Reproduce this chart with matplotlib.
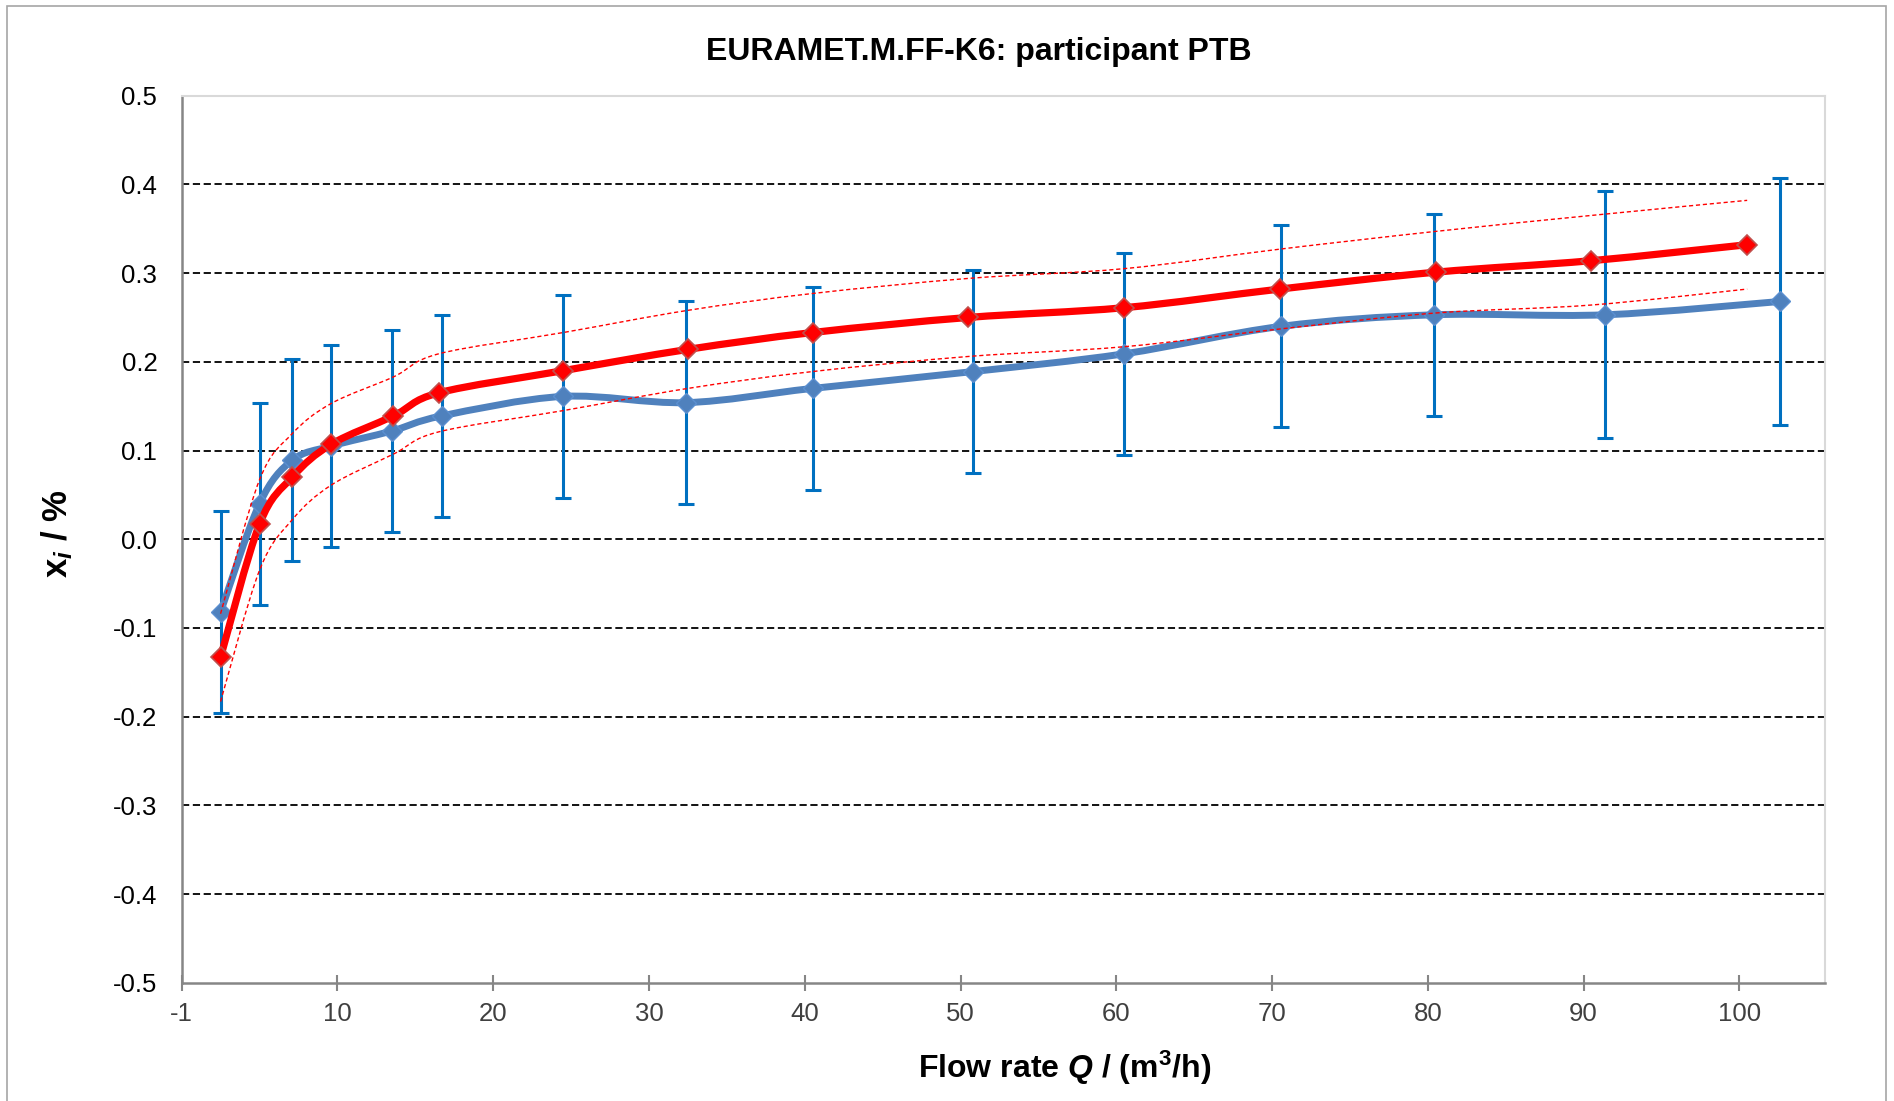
"""
EURAMET.M.FF-K6 comparison plot for participant PTB
x_i vs flow rate, with the reference curve and its uncertainty band
"""
import matplotlib
matplotlib.use("Agg")
import matplotlib.pyplot as plt
from matplotlib.path import Path
from matplotlib.patches import PathPatch, Rectangle

plt.rcParams["font.family"] = ["Liberation Sans", "DejaVu Sans"]
plt.rcParams["mathtext.fontset"] = "custom"
plt.rcParams["mathtext.rm"] = "Liberation Sans:bold"
plt.rcParams["mathtext.it"] = "Liberation Sans:bold:italic"
plt.rcParams["mathtext.bf"] = "Liberation Sans:bold"

# participant PTB (blue) with expanded uncertainty
ptb_q = [2.0, 4.5, 6.6, 9.1, 13.0, 16.2, 24.0, 31.9, 40.0, 50.3, 60.0, 70.1, 79.9, 90.9, 102.1]
ptb_x = [-0.082, 0.040, 0.089, 0.105, 0.122, 0.139, 0.161, 0.154, 0.170, 0.189, 0.209, 0.240, 0.253, 0.253, 0.268]
ptb_u = [0.114, 0.114, 0.114, 0.114, 0.114, 0.114, 0.114, 0.114, 0.114, 0.114, 0.114, 0.114, 0.114, 0.139, 0.139]

# reference curve (red) and its upper / lower uncertainty limits
ref_q = [2.0, 4.5, 6.6, 9.1, 13.1, 16.0, 24.0, 32.0, 40.0, 50.0, 60.0, 70.0, 80.0, 90.0, 100.0]
ref_x = [-0.133, 0.017, 0.070, 0.107, 0.139, 0.165, 0.190, 0.214, 0.233, 0.250, 0.261, 0.282, 0.301, 0.314, 0.332]
ref_hi = [-0.084, 0.067, 0.119, 0.153, 0.183, 0.209, 0.233, 0.258, 0.277, 0.294, 0.305, 0.327, 0.347, 0.365, 0.382]
ref_lo = [-0.183, -0.035, 0.022, 0.061, 0.096, 0.121, 0.145, 0.170, 0.189, 0.206, 0.217, 0.237, 0.255, 0.264, 0.282]

x_ticks = [-0.5, 9.5, 19.5, 29.5, 39.5, 49.5, 59.5, 69.5, 79.5, 89.5, 99.5]
x_labels = ["-1", "10", "20", "30", "40", "50", "60", "70", "80", "90", "100"]
y_ticks = [0.5, 0.4, 0.3, 0.2, 0.1, 0.0, -0.1, -0.2, -0.3, -0.4, -0.5]


def smooth_path(xs, ys):
    # excel style smoothed line: bezier segments through every point
    pts = list(zip(xs, ys))
    verts = [pts[0]]
    codes = [Path.MOVETO]
    n = len(pts)
    for i in range(n - 1):
        p0 = pts[max(i - 1, 0)]
        p1 = pts[i]
        p2 = pts[i + 1]
        p3 = pts[min(i + 2, n - 1)]
        c1 = (p1[0] + (p2[0] - p0[0]) / 6, p1[1] + (p2[1] - p0[1]) / 6)
        c2 = (p2[0] - (p3[0] - p1[0]) / 6, p2[1] - (p3[1] - p1[1]) / 6)
        verts += [c1, c2, p2]
        codes += [Path.CURVE4] * 3
    return Path(verts, codes)


def add_curve(ax, xs, ys, **kw):
    patch = PathPatch(smooth_path(xs, ys), fill=False, **kw)
    ax.add_patch(patch)
    return patch


fig = plt.figure(figsize=(18.94, 11.01), dpi=100)
ax = fig.add_axes([0.0959, 0.1074, 0.8677, 0.8057])

fig.patches.append(Rectangle((0.0037, -0.01), 0.9919, 1.005, transform=fig.transFigure,
                             fill=False, edgecolor="#A6A6A6", linewidth=1.2))

for y in y_ticks[1:-1]:
    ax.axhline(y, color="black", linewidth=1.3, linestyle=(0, (4, 2)), zorder=1)

blue = "#4F81BD"
red = "#FF0000"

ax.errorbar(ptb_q, ptb_x, yerr=ptb_u, fmt="none", ecolor="#0070C0",
            elinewidth=2.2, capsize=6, capthick=2.2, zorder=2)
add_curve(ax, ptb_q, ptb_x, edgecolor=blue, linewidth=5, zorder=3,
          capstyle="round", joinstyle="round")
ax.plot(ptb_q, ptb_x, linestyle="none", marker="D", markersize=10.5,
        markerfacecolor=blue, markeredgecolor="#5B8FD0", zorder=4)

add_curve(ax, ref_q, ref_hi, edgecolor=red, linewidth=1.0, linestyle=(0, (3, 2)), zorder=5)
add_curve(ax, ref_q, ref_lo, edgecolor=red, linewidth=1.0, linestyle=(0, (3, 2)), zorder=5)
add_curve(ax, ref_q, ref_x, edgecolor=red, linewidth=5.2, zorder=6,
          capstyle="round", joinstyle="round")
ax.plot(ref_q, ref_x, linestyle="none", marker="D", markersize=10.5,
        markerfacecolor=red, markeredgecolor="#C0504D", markeredgewidth=1.2, zorder=7)

ax.set_xlim(-0.5, 105)
ax.set_ylim(-0.5, 0.5)
ax.set_xticks(x_ticks)
ax.set_xticklabels(x_labels)
ax.set_yticks(y_ticks)
ax.set_yticklabels(["{:.1f}".format(v) for v in y_ticks])

ax.tick_params(axis="x", direction="inout", length=11, width=1.5, color="#868686",
               labelsize=18.5, labelcolor="#404040", pad=8)
ax.tick_params(axis="y", length=0, labelsize=18.5, labelcolor="black", pad=17.5)

for side in ["left", "bottom"]:
    ax.spines[side].set_color("#868686")
    ax.spines[side].set_linewidth(1.8)
for side in ["top", "right"]:
    ax.spines[side].set_color("#D9D9D9")
    ax.spines[side].set_linewidth(1.5)

fig.text(0.517, 0.953, "EURAMET.M.FF-K6: participant PTB", ha="center", va="center",
         fontsize=23, fontweight="bold")
fig.text(0.562, 0.030, r"Flow rate $Q$ / ($\mathrm{m}^{3}$/h)", ha="center", va="center",
         fontsize=23, fontweight="bold")
fig.text(0.030, 0.515, r"$\mathrm{x}_{i}$ / %", ha="center", va="center",
         rotation=90, fontsize=25, fontweight="bold")

fig.savefig("out.png", dpi=100)
